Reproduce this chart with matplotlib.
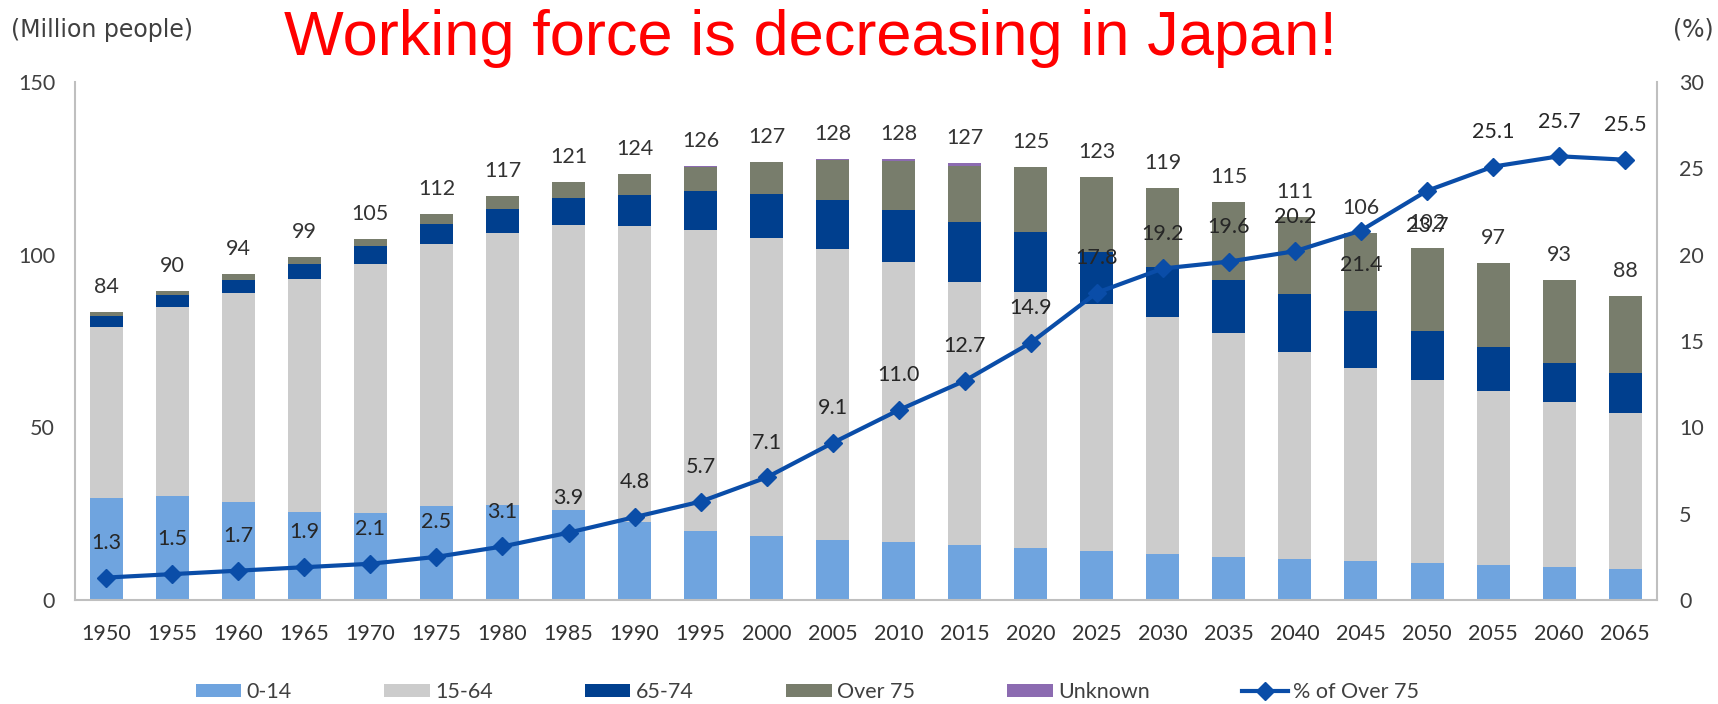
import matplotlib.pyplot as plt
import numpy as np

years = [1950, 1955, 1960, 1965, 1970, 1975, 1980, 1985, 1990, 1995, 2000, 2005,
         2010, 2015, 2020, 2025, 2030, 2035, 2040, 2045, 2050, 2055, 2060, 2065]

# million people
age_0_14 = [29.4, 30.1, 28.4, 25.5, 25.2, 27.2, 27.5, 26.0, 22.5, 20.0, 18.5, 17.5,
            16.8, 15.9, 15.1, 14.1, 13.2, 12.5, 11.9, 11.4, 10.8, 10.1, 9.5, 9.0]
age_15_64 = [49.7, 54.7, 60.5, 67.4, 72.1, 75.8, 78.8, 82.5, 85.9, 87.2, 86.2, 84.1,
             81.0, 76.3, 74.1, 71.7, 68.8, 64.9, 59.8, 55.8, 52.8, 50.3, 47.9, 45.3]
age_65_74 = [3.1, 3.4, 3.8, 4.4, 5.1, 6.0, 7.0, 7.8, 8.9, 11.1, 13.0, 14.1,
             15.2, 17.2, 17.5, 15.0, 14.3, 15.2, 16.8, 16.4, 14.2, 12.8, 11.3, 11.3]
over_75 = [1.1, 1.4, 1.6, 1.9, 2.2, 2.8, 3.7, 4.7, 6.0, 7.2, 9.0, 11.6,
           14.1, 16.3, 18.7, 21.8, 22.9, 22.6, 22.4, 22.8, 24.2, 24.3, 24.1, 22.5]
unknown = [0, 0, 0, 0, 0, 0, 0, 0, 0.2, 0.1, 0.2, 0.5,
           0.7, 0.8, 0, 0, 0, 0, 0, 0, 0, 0, 0, 0]
total_labels = [84, 90, 94, 99, 105, 112, 117, 121, 124, 126, 127, 128,
                128, 127, 125, 123, 119, 115, 111, 106, 102, 97, 93, 88]

# percent
pct_over_75 = [1.3, 1.5, 1.7, 1.9, 2.1, 2.5, 3.1, 3.9, 4.8, 5.7, 7.1, 9.1,
               11.0, 12.7, 14.9, 17.8, 19.2, 19.6, 20.2, 21.4, 23.7, 25.1, 25.7, 25.5]
pct_label_below = [2045, 2050]

plt.rcParams['font.family'] = ['Lato', 'DejaVu Sans']
text_color = '#404040'

fig = plt.figure(figsize=(17.18, 7.04), dpi=100)
ax = fig.add_axes([0.0434, 0.1477, 0.921, 0.7358])

x = np.arange(len(years))
w = 0.5
bottom = np.zeros(len(years))
series = [(age_0_14, '#6FA4DF', '0-14'),
          (age_15_64, '#CCCCCC', '15-64'),
          (age_65_74, '#003F8E', '65-74'),
          (over_75, '#787D6C', 'Over 75'),
          (unknown, '#8C6BB1', 'Unknown')]
for vals, color, name in series:
    ax.bar(x, vals, w, bottom=bottom, color=color, label=name)
    bottom += np.array(vals)

for xi, top, lab in zip(x, bottom, total_labels):
    ax.annotate(str(lab), (xi, top), xytext=(0, 18), textcoords='offset points',
                ha='center', va='center', fontsize=15.5, color='#333333')

ax.set_xlim(-0.48, len(years) - 0.52)
ax.set_ylim(0, 150)
ax.set_yticks([0, 50, 100, 150])
ax.set_xticks(x)
ax.set_xticklabels([str(y) for y in years])
ax.tick_params(axis='y', length=0, pad=14, labelsize=15.5, labelcolor=text_color)
ax.tick_params(axis='x', length=0, pad=17, labelsize=15.5, labelcolor='#333333')
ax.spines['top'].set_visible(False)
ax.spines['right'].set_visible(False)
for s in ['left', 'bottom']:
    ax.spines[s].set_color('#BFBFBF')
    ax.spines[s].set_linewidth(1.5)

ax2 = ax.twinx()
ax2.plot(x, pct_over_75, color='#0A4DA8', lw=3, marker='D', markersize=9,
         label='% of Over 75')
for xi, yr, p in zip(x, years, pct_over_75):
    dy = -25 if yr in pct_label_below else 25
    ax2.annotate(f'{p:.1f}', (xi, p), xytext=(0, dy), textcoords='offset points',
                 ha='center', va='center', fontsize=15.5, color='#262626')
ax2.set_ylim(0, 30)
ax2.set_yticks([0, 5, 10, 15, 20, 25, 30])
ax2.tick_params(axis='y', length=0, pad=16, labelsize=15.5, labelcolor=text_color)
for s in ['top', 'left', 'bottom']:
    ax2.spines[s].set_visible(False)
ax2.spines['right'].set_color('#BFBFBF')
ax2.spines['right'].set_linewidth(1.5)

h1, l1 = ax.get_legend_handles_labels()
h2, l2 = ax2.get_legend_handles_labels()
fig.legend(h1 + h2, l1 + l2, ncol=6, loc='center', bbox_to_anchor=(0.47, 0.017),
           frameon=False, fontsize=15.5, handlelength=2.1, handleheight=0.5,
           columnspacing=4.3, handletextpad=0.25, labelcolor=text_color)

fig.text(11 / 1718, 1 - 30 / 704, '(Million people)', ha='left', va='center',
         fontsize=17, color=text_color, family='DejaVu Sans')
fig.text(1693 / 1718, 1 - 30 / 704, '(%)', ha='center', va='center',
         fontsize=17, color=text_color, family='DejaVu Sans')
fig.text(0.472, 1 - 55 / 704, 'Working force is decreasing in Japan!',
         ha='center', va='baseline', fontsize=45.5, color='red',
         family='Liberation Sans')

plt.savefig('out.png', dpi=100)
